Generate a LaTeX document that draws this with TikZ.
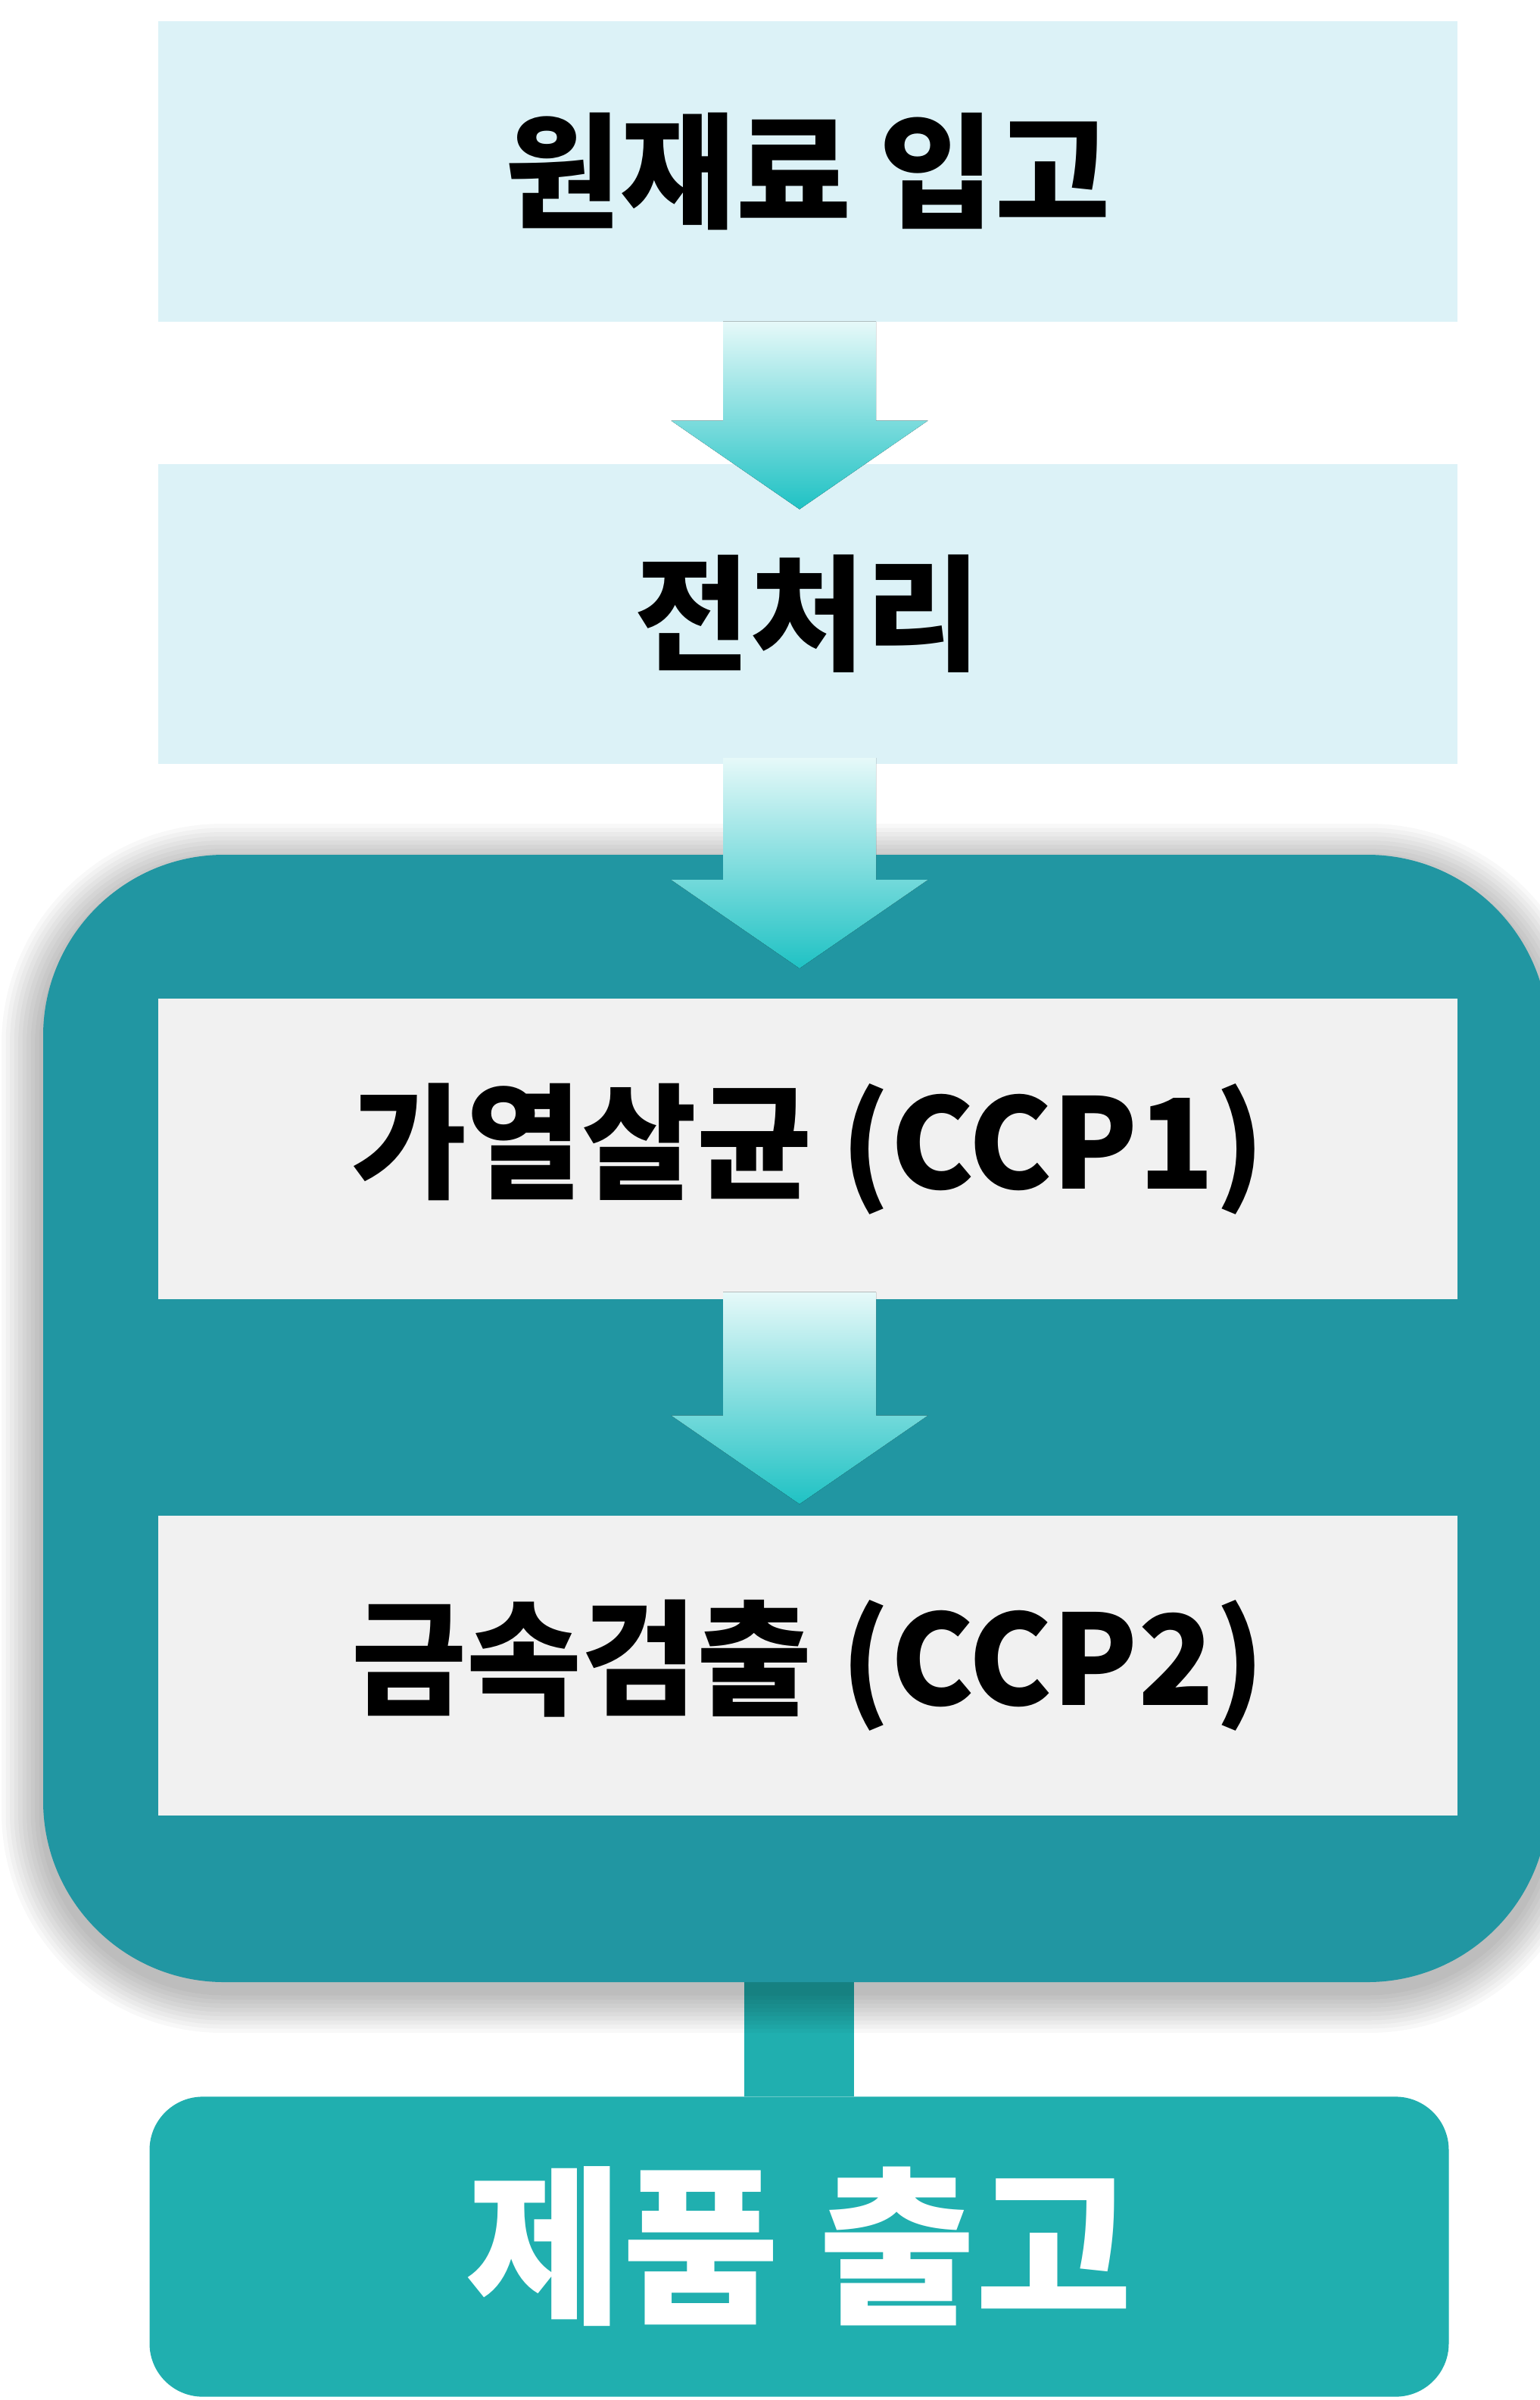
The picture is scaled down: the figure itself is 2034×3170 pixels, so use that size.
\documentclass[tikz,border=0pt]{standalone}
\usepackage{fontspec}
\setmainfont{Noto Sans CJK KR}[BoldFont={Noto Sans CJK KR Black}]
\usetikzlibrary{calc}
\definecolor{lightbox}{HTML}{DCF2F7}
\definecolor{graybox}{HTML}{F1F1F1}
\definecolor{ccpteal}{HTML}{2196A2}
\definecolor{outteal}{HTML}{20AFAF}
\definecolor{arrtop}{HTML}{E6F9F9}
\definecolor{arrmid}{HTML}{86E3E3}
\definecolor{arrbot}{HTML}{1FC2C4}
\tikzset{
  stepbox/.style={minimum width=17.15cm, minimum height=3.96cm, inner sep=0pt, outer sep=0pt,
    font=\bfseries\fontsize{47}{52}\selectfont, text=black},
  lightstep/.style={stepbox, fill=lightbox},
  graystep/.style={stepbox, fill=graybox},
  endstep/.style={stepbox, fill=outteal, rounded corners=20pt, text=white,
    font=\bfseries\fontsize{64}{70}\selectfont},
  arrowgrad/.style={top color=arrtop, middle color=arrmid, bottom color=arrbot},
  pics/flowarrow/.style={code={
    \fill[arrowgrad] (-101,0) -- (-101,#1) -- (-169.5,#1) -- (0,#1+117)
      -- (169.5,#1) -- (101,#1) -- (101,0) -- cycle;
  }}
}
\begin{document}
\begin{tikzpicture}[x=0.01cm,y=-0.01cm]
\useasboundingbox (0,0) rectangle (2034,3170);
\clip (0,0) rectangle (2034,3170);
\fill[white] (0,0) rectangle (2034,3170);

% output box and link
\node[endstep] (out) at (1055.5,2967.5) {제품 출고};
\coordinate (ccpbottom) at (1055.5,2618);
\fill[outteal] ([xshift=-0.725cm]ccpbottom) rectangle ([xshift=0.725cm]out.north);

% shadow of the CCP group
\foreach \i in {1,...,10}{
  \pgfmathsetmacro{\e}{\i*5.5}
  \pgfmathsetmacro{\r}{68+\i*1.5}
  \fill[black, opacity=0.026, rounded corners=\r pt]
    (57-\e,1129-\e+14) rectangle (2045+\e,2618+\e+12);
}
% CCP group
\fill[ccpteal, rounded corners=68pt] (57,1129) rectangle (2045,2618);

% steps
\node[lightstep] (s1) at (1067,226.5) {원재료 입고};
\node[lightstep] (s2) at (1067,811) {전처리};
\node[graystep] (s3) at (1067,1517.5) {가열살균 (CCP1)};
\node[graystep] (s4) at (1067,2200) {금속검출 (CCP2)};

% arrows
\pic at ([xshift=-0.11cm]s1.south) {flowarrow=131};
\pic at ([xshift=-0.11cm,yshift=0.08cm]s2.south) {flowarrow=161};
\pic at ([xshift=-0.11cm,yshift=0.09cm]s3.south) {flowarrow=163};
\end{tikzpicture}
\end{document}
